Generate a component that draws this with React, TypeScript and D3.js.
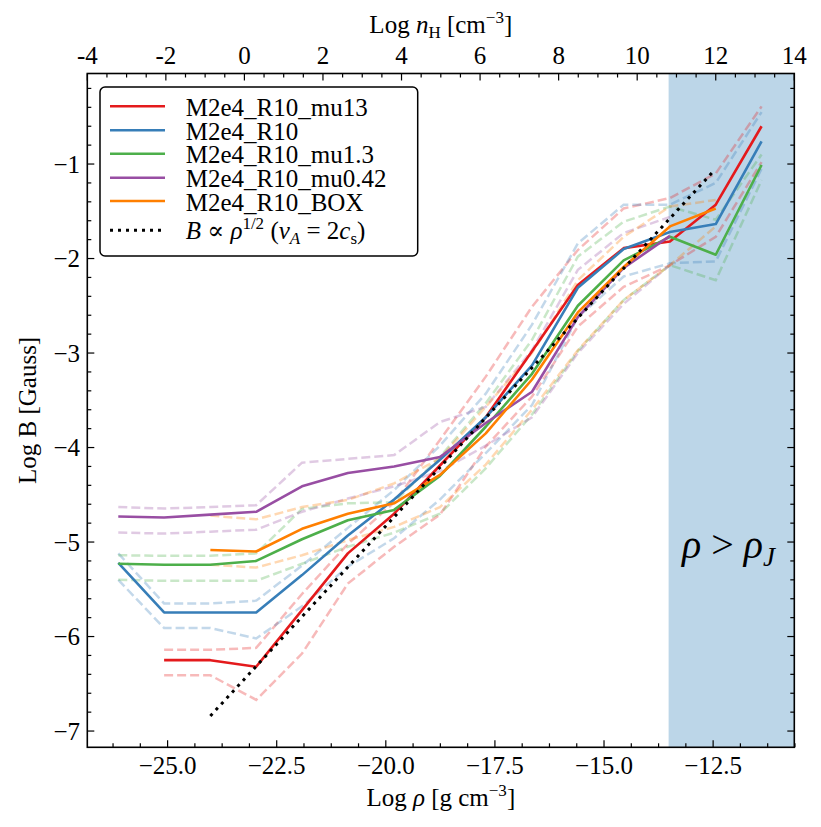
import React from 'react'
import * as d3 from 'd3'

// log density bins (g cm^-3)
const logRho = [-26.13, -25.08, -24.02, -22.97, -21.92, -20.87, -19.81, -18.76, -17.71, -16.65, -15.6, -14.55, -13.49, -12.44, -11.39]

// M2e4_R10_mu13
const mu13Mid = [null, -6.25, -6.25, -6.32, -5.72, -5.12, -4.7, -4.19, -3.68, -2.98, -2.28, -1.89, -1.82, -1.43, -0.6]
const mu13Hi = [null, -6.14, -6.14, -6.12, -5.55, -5.02, -4.58, -3.92, -3.25, -2.51, -1.91, -1.47, -1.36, -1.1, -0.39]
const mu13Lo = [null, -6.41, -6.41, -6.67, -6.18, -5.44, -5.05, -4.71, -3.99, -3.46, -2.72, -2.3, -2.07, -1.77, -0.98]

// M2e4_R10
const r10Mid = [-5.22, -5.745, -5.745, -5.745, -5.35, -4.93, -4.55, -4.13, -3.68, -3.13, -2.31, -1.9, -1.72, -1.635, -0.76]
const r10Hi = [-5.12, -5.65, -5.65, -5.62, -5.25, -4.85, -4.45, -3.98, -3.43, -2.7, -1.84, -1.43, -1.43, -1.2, -0.45]
const r10Lo = [-5.4, -5.91, -5.91, -6.02, -5.68, -5.26, -4.96, -4.55, -4.06, -3.55, -2.62, -2.19, -2.05, -2.03, -1.05]

// M2e4_R10_mu1.3
const mu13bMid = [-5.23, -5.24, -5.24, -5.2, -4.97, -4.77, -4.66, -4.3, -3.78, -3.22, -2.5, -2.02, -1.77, -1.96, -1.01]
const mu13bHi = [-5.14, -5.145, -5.145, -5.12, -4.65, -4.59, -4.58, -4.1, -3.53, -2.86, -1.98, -1.61, -1.45, -1.59, -0.9]
const mu13bLo = [-5.4, -5.41, -5.41, -5.41, -5.23, -5.05, -4.9, -4.7, -4.22, -3.65, -2.98, -2.44, -2.07, -2.23, -1.17]

// M2e4_R10_mu0.42
const mu042Mid = [-4.73, -4.74, -4.71, -4.68, -4.41, -4.27, -4.2, -4.1, -3.74, -3.41, -2.62, -2.1, -1.76, null, null]
const mu042Hi = [-4.63, -4.645, -4.63, -4.61, -4.16, -4.12, -4.08, -3.73, -3.57, -2.97, -2.12, -1.73, -1.56, null, null]
const mu042Lo = [-4.9, -4.91, -4.89, -4.87, -4.68, -4.54, -4.41, -4.25, -3.98, -3.68, -3.0, -2.48, -2.07, null, null]

// M2e4_R10_BOX
const boxMid = [null, null, -5.085, -5.1, -4.86, -4.7, -4.59, -4.29, -3.85, -3.28, -2.57, -2.09, -1.66, -1.47, null]
const boxHi = [null, null, -4.72, -4.76, -4.63, -4.555, -4.38, -4.115, -3.57, -3.0, -2.23, -1.77, -1.45, -1.38, null]
const boxLo = [null, null, -5.24, -5.27, -5.14, -4.98, -4.84, -4.63, -4.18, -3.6, -2.97, -2.44, -2.07, -1.66, null]

// B ∝ rho^1/2 reference line (end points)
const refRho = [-24.02, -12.46]
const refB = [-6.84, -1.06]

// shaded rho > rho_J region starts here
const jeansRho = -13.52

const rhoTicks = [-25, -22.5, -20, -17.5, -15, -12.5]
const bTicks = [-7, -6, -5, -4, -3, -2, -1]
const nHTicks = [-4, -2, 0, 2, 4, 6, 8, 10, 12, 14]

const series = [
    { label: 'M2e4_R10_mu13', color: '#e41a1c', mid: mu13Mid, hi: mu13Hi, lo: mu13Lo },
    { label: 'M2e4_R10', color: '#377eb8', mid: r10Mid, hi: r10Hi, lo: r10Lo },
    { label: 'M2e4_R10_mu1.3', color: '#4daf4a', mid: mu13bMid, hi: mu13bHi, lo: mu13bLo },
    { label: 'M2e4_R10_mu0.42', color: '#984ea3', mid: mu042Mid, hi: mu042Hi, lo: mu042Lo },
    { label: 'M2e4_R10_BOX', color: '#ff7f00', mid: boxMid, hi: boxHi, lo: boxLo },
]

const FONT = '"Liberation Serif", "DejaVu Serif", serif'
const minus = (s: string) => s.replace(/-/g, '\u2212')

export default function App() {
    const width = 821
    const height = 827
    const left = 87.3, right = 794.3, top = 73.5, bottom = 747.3

    const x = d3.scaleLinear().domain([-26.84, -10.64]).range([left, right])
    const y = d3.scaleLinear().domain([-7.172, -0.042]).range([bottom, top])
    const xTop = d3.scaleLinear().domain([-4, 14]).range([left, right])

    const line = d3.line<[number, number | null]>()
        .defined(d => d[1] !== null)
        .x(d => x(d[0]))
        .y(d => y(d[1] as number))

    const pts = (vals: (number | null)[]) => logRho.map((r, i) => [r, vals[i]] as [number, number | null])

    const rhoMinor = d3.range(-26.25, -10.6, 0.625).filter(v => !rhoTicks.some(t => Math.abs(t - v) < 1e-6))
    const bMinor = d3.range(-7.2, 0, 0.2).filter(v => v >= -7.17 && Math.abs(v - Math.round(v)) > 1e-6)
    const nHMinor = d3.range(-4, 14.01, 0.5).filter(v => Math.abs(v / 2 - Math.round(v / 2)) > 1e-6)

    const majorLen = 7, minorLen = 4

    const rows = [106.3, 130.3, 153.7, 177.7, 201, 230.3]

    return (
        <svg width={width} height={height} style={{ position: 'absolute', left: 0, top: 0, background: '#fff', fontFamily: FONT }}>
            <rect x={0} y={0} width={width} height={height} fill="#fff" />
            {/* Jeans region */}
            <rect x={x(jeansRho)} y={top} width={right - x(jeansRho)} height={bottom - top} fill="#bcd6e8" />

            {/* dashed spread lines */}
            {series.map(s => (
                <g key={s.label + 'd'} fill="none" stroke={s.color} strokeOpacity={0.3} strokeWidth={2.5} strokeDasharray="9,4">
                    <path d={line(pts(s.hi)) || ''} />
                    <path d={line(pts(s.lo)) || ''} />
                </g>
            ))}
            {/* median lines */}
            {series.map(s => (
                <path key={s.label} d={line(pts(s.mid)) || ''} fill="none" stroke={s.color} strokeWidth={2.6} strokeLinejoin="round" />
            ))}
            {/* reference slope */}
            <path d={line(refRho.map((r, i) => [r, refB[i]] as [number, number])) || ''} fill="none" stroke="#000" strokeWidth={3} strokeDasharray="3,5" />

            {/* frame */}
            <rect x={left} y={top} width={right - left} height={bottom - top} fill="none" stroke="#000" strokeWidth={1.6} />

            {/* ticks, all pointing inward */}
            <g stroke="#000" strokeWidth={1.2}>
                {rhoTicks.map(t => (
                    <line key={'rb' + t} x1={x(t)} x2={x(t)} y1={bottom} y2={bottom - majorLen} />
                ))}
                {rhoMinor.map(t => (
                    <line key={'rm' + t} x1={x(t)} x2={x(t)} y1={bottom} y2={bottom - minorLen} />
                ))}
                {bTicks.map(t => (
                    <g key={'bt' + t}>
                        <line x1={left} x2={left + majorLen} y1={y(t)} y2={y(t)} />
                        <line x1={right} x2={right - majorLen} y1={y(t)} y2={y(t)} />
                    </g>
                ))}
                {bMinor.map(t => (
                    <g key={'bm' + t}>
                        <line x1={left} x2={left + minorLen} y1={y(t)} y2={y(t)} />
                        <line x1={right} x2={right - minorLen} y1={y(t)} y2={y(t)} />
                    </g>
                ))}
                {nHTicks.map(t => (
                    <line key={'nt' + t} x1={xTop(t)} x2={xTop(t)} y1={top} y2={top + majorLen} />
                ))}
                {nHMinor.map(t => (
                    <line key={'nm' + t} x1={xTop(t)} x2={xTop(t)} y1={top} y2={top + minorLen} />
                ))}
            </g>

            {/* tick labels */}
            <g fontSize={25} fill="#000">
                {rhoTicks.map(t => (
                    <text key={'rl' + t} x={x(t)} y={773.5} textAnchor="middle">{minus(d3.format('.1f')(t))}</text>
                ))}
                {bTicks.map(t => (
                    <text key={'bl' + t} x={80} y={y(t) + 8.5} textAnchor="end">{minus(String(t))}</text>
                ))}
                {nHTicks.map(t => (
                    <text key={'nl' + t} x={xTop(t)} y={63.5} textAnchor="middle">{String(t)}</text>
                ))}
            </g>

            {/* axis titles */}
            <text x={(left + right) / 2} y={806} fontSize={25} textAnchor="middle">
                Log <tspan fontStyle="italic">ρ</tspan> [g cm<tspan dy={-10} fontSize={17}>−3</tspan><tspan dy={10}>]</tspan>
            </text>
            <text x={(left + right) / 2} y={33} fontSize={25} textAnchor="middle">
                Log <tspan fontStyle="italic">n</tspan><tspan dy={5} fontSize={17}>H</tspan><tspan dy={-5}> [cm</tspan><tspan dy={-10} fontSize={17}>−3</tspan><tspan dy={10}>]</tspan>
            </text>
            <text transform={`translate(36,${(top + bottom) / 2}) rotate(-90)`} fontSize={25} textAnchor="middle">
                Log B [Gauss]
            </text>

            {/* region label */}
            <text x={682} y={558} fontSize={40} fontStyle="italic">
                ρ <tspan fontStyle="normal">&gt;</tspan> ρ<tspan dy={8} fontSize={27}>J</tspan>
            </text>

            {/* legend */}
            <rect x={100} y={87} width={317.7} height={169} rx={5} fill="#fff" stroke="#000" strokeWidth={1.5} />
            {series.map((s, i) => (
                <g key={'lg' + s.label}>
                    <line x1={110} x2={165} y1={rows[i]} y2={rows[i]} stroke={s.color} strokeWidth={2.6} />
                    <text x={185.7} y={rows[i] + 9.5} fontSize={25}>{s.label}</text>
                </g>
            ))}
            <line x1={110} x2={165} y1={rows[5]} y2={rows[5]} stroke="#000" strokeWidth={3} strokeDasharray="3,5" />
            <text x={185.7} y={238.7} fontSize={25}>
                <tspan fontStyle="italic">B</tspan> ∝ <tspan fontStyle="italic">ρ</tspan><tspan dy={-10} fontSize={17}>1/2</tspan><tspan dy={10}> (</tspan><tspan fontStyle="italic">v</tspan><tspan dy={5} fontSize={17} fontStyle="italic">A</tspan><tspan dy={-5}> = 2</tspan><tspan fontStyle="italic">c</tspan><tspan dy={5} fontSize={17}>s</tspan><tspan dy={-5}>)</tspan>
            </text>
        </svg>
    )
}
